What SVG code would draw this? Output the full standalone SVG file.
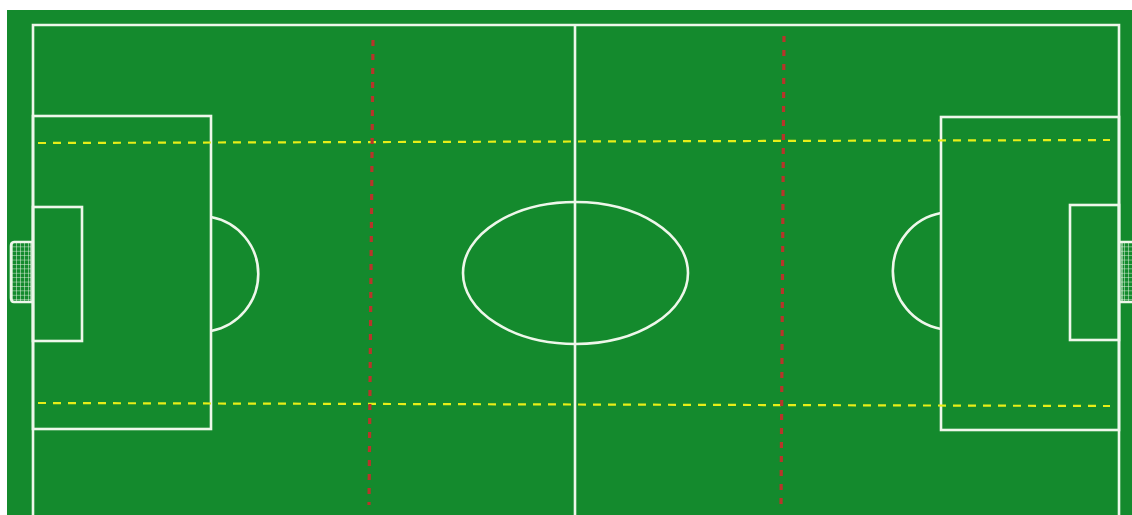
<svg xmlns="http://www.w3.org/2000/svg" width="1132" height="515" viewBox="0 0 1132 515">
  <defs>
    <style>
      .line { fill: none; stroke: #eef7ea; stroke-width: 2.6; }
      .net { fill: none; stroke: #eef7ea; stroke-width: 1; }
      .yellow { fill: none; stroke: #e6ee18; stroke-width: 2.2; stroke-dasharray: 8 7; }
      .red { fill: none; stroke: #b8352a; stroke-width: 3.2; stroke-dasharray: 6 8; }
    </style>
    <pattern id="netgrid" x="0" y="0" width="4" height="4.4" patternUnits="userSpaceOnUse">
      <path d="M0 0 H4 M0 0 V4.4" stroke="#eef7ea" stroke-width="1" fill="none"/>
    </pattern>
  </defs>
  <rect width="1132" height="515" fill="#ffffff"/>
  <rect x="7" y="10" width="1125" height="505" fill="#148a2d"/>

  <g id="pitch-lines">
    <path class="line" d="M33 515 V25 H1119 V515"/>
    <line class="line" x1="575" y1="25" x2="575" y2="515"/>
    <ellipse class="line" cx="575.5" cy="273" rx="112.5" ry="71"/>
  </g>

  <g id="left-penalty-area">
    <rect class="line" x="33" y="116" width="178" height="313"/>
    <rect class="line" x="33" y="207" width="49" height="134"/>
    <path class="line" d="M211 217 A58 58 0 0 1 211 331"/>
  </g>

  <g id="right-penalty-area">
    <rect class="line" x="941" y="117" width="178" height="313"/>
    <rect class="line" x="1070" y="205" width="49" height="135"/>
    <path class="line" d="M941 213 A59 59 0 0 0 941 329"/>
  </g>

  <g id="left-goal">
    <rect x="11" y="242" width="20" height="60" fill="url(#netgrid)"/>
    <path class="line" stroke-width="2" d="M33 242 H14 Q11 242 11 246 V298 Q11 302 14 302 H33"/>
    <line class="net" x1="31" y1="242" x2="31" y2="302"/>
  </g>

  <g id="right-goal">
    <rect x="1121" y="242" width="12" height="60" fill="url(#netgrid)"/>
    <path class="line" stroke-width="2" d="M1119 242 H1133 M1119 302 H1133"/>
    <line class="net" x1="1122" y1="242" x2="1122" y2="302"/>
  </g>

  <g id="zone-lines">
    <line class="yellow" x1="38" y1="143" x2="1110" y2="140"/>
    <line class="yellow" x1="38" y1="403" x2="1110" y2="406"/>
    <line class="red" x1="373" y1="40" x2="369" y2="505"/>
    <line class="red" x1="784" y1="36" x2="781" y2="512"/>
  </g>
</svg>
